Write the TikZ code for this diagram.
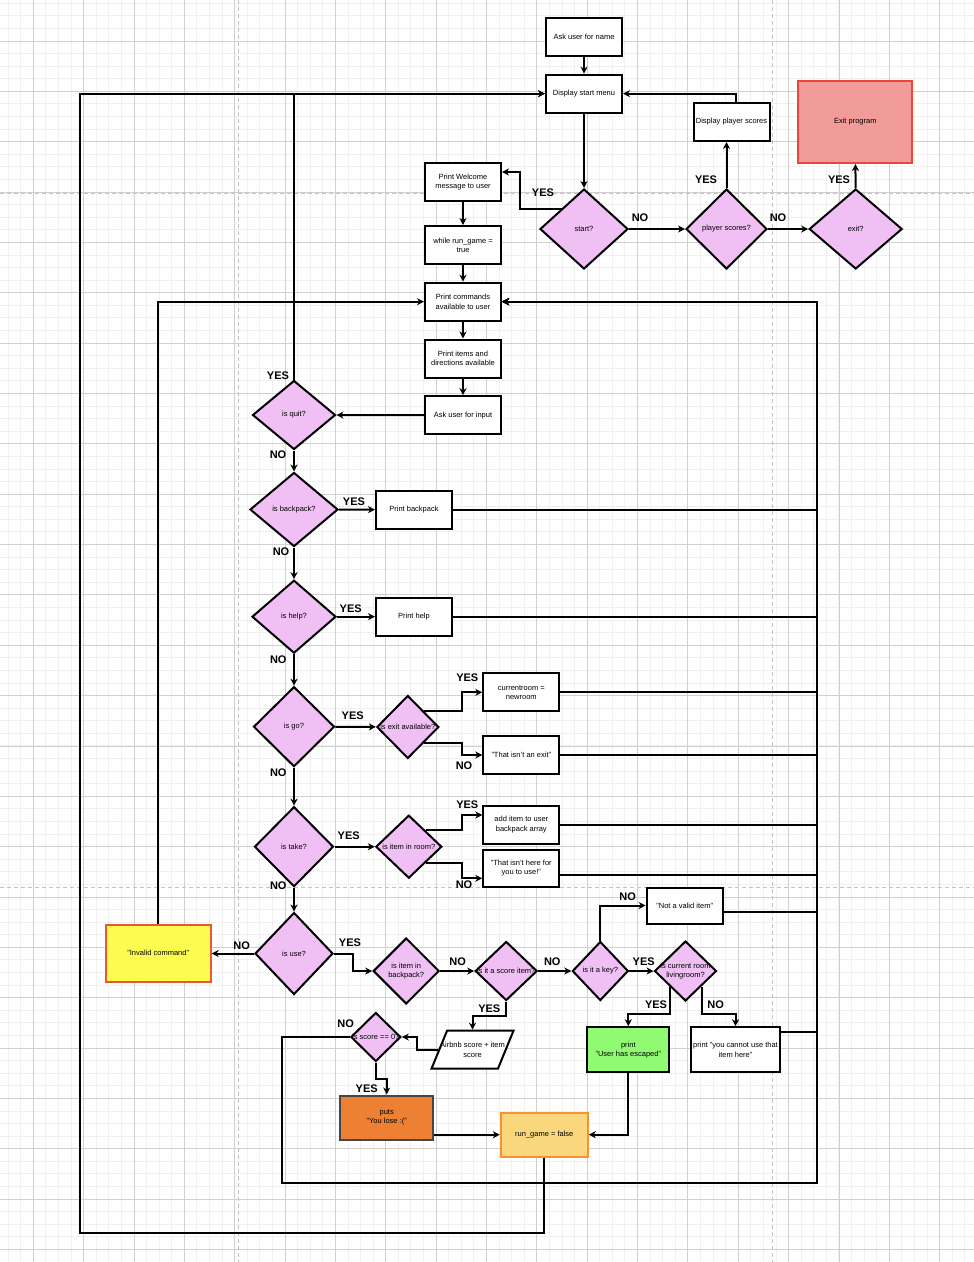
\documentclass[tikz,border=0pt]{standalone}
\usepackage{fontspec}
\setmainfont{Liberation Sans}
\usetikzlibrary{shapes.geometric,arrows.meta}

\definecolor{gridminor}{RGB}{240,240,240}
\definecolor{gridmajor}{RGB}{208,208,208}
\definecolor{pagecol}{RGB}{195,195,195}
\definecolor{decfill}{RGB}{240,192,245}
\definecolor{exitfill}{RGB}{241,156,153}
\definecolor{exitdraw}{RGB}{236,70,56}
\definecolor{invfill}{RGB}{252,252,80}
\definecolor{invdraw}{RGB}{240,85,50}
\definecolor{losefill}{RGB}{237,128,50}
\definecolor{losedraw}{RGB}{70,70,70}
\definecolor{endfill}{RGB}{250,215,125}
\definecolor{enddraw}{RGB}{245,145,55}
\definecolor{winfill}{RGB}{145,250,115}

\tikzset{
  proc/.style={draw,line width=2pt,fill=white,align=center,inner sep=1pt,
    minimum width=76pt,minimum height=38pt},
  decision/.style={diamond,draw,line width=2pt,fill=decfill,inner sep=0pt},
  dtext/.style={align=center,inner sep=0pt},
  yn/.style={font=\fontsize{11}{13}\bfseries\selectfont,inner sep=0pt},
  arr/.style={line width=2pt,-{Stealth[length=7pt,width=7pt,inset=2.2pt]}}
}

\begin{document}
\begin{tikzpicture}[x=1pt,y=-1pt,every node/.style={font=\fontsize{7.5}{9.3}\selectfont}]
\useasboundingbox (0,0) rectangle (974,1262);
\fill[white] (0,0) rectangle (974,1262);

% background grid
\begin{scope}
\clip (0,0) rectangle (974,1262);
\foreach \i in {-3,...,75} \draw[gridminor,line width=0.9pt] ({33.3+12.5875*\i},0) -- ++(0,1262);
\foreach \i in {-4,...,98} \draw[gridminor,line width=0.9pt] (0,{41+12.5875*\i}) -- ++(974,0);
\foreach \i in {0,...,18} \draw[gridmajor,line width=0.8pt] ({33.3+50.35*\i},0) -- ++(0,1262);
\foreach \i in {0,...,24} \draw[gridmajor,line width=0.8pt] (0,{41+50.35*\i}) -- ++(974,0);
\draw[pagecol,line width=1.2pt,dash pattern=on 4pt off 3pt]
  (238.3,0) -- (238.3,1262) (772.7,0) -- (772.7,1262)
  (0,193.3) -- (974,193.3) (0,887.3) -- (974,887.3);
\end{scope}

% start menu
\node[proc] (name) at (584,37) {Ask user for name};
\node[proc] (menu) at (584,93.7) {Display start menu};
\node[proc] (welcome) at (463,182) {Print Welcome\\message to user};
\node[proc] (whilegame) at (463,245) {while run\_game =\\true};
\node[proc] (showscores) at (731.5,122) {Display player scores};
\node[proc,minimum width=114pt,minimum height=82pt,fill=exitfill,draw=exitdraw] (exitprog) at (855.3,122) {Exit program};
\node[decision,minimum width=88pt,minimum height=80pt,label={[dtext]center:start?}] (start) at (584,229) {};
\node[decision,minimum width=81pt,minimum height=80pt,label={[dtext]center:player scores?}] (pscores) at (726.5,229) {};
\node[decision,minimum width=93pt,minimum height=80pt,label={[dtext]center:exit?}] (exitq) at (855.7,229) {};

% game loop
\node[proc] (cmds) at (463,301.7) {Print commands\\available to user};
\node[proc] (items) at (463,358.5) {Print items and\\directions available};
\node[proc] (input) at (463,415.2) {Ask user for input};
\node[decision,minimum width=83pt,minimum height=69pt,label={[dtext]center:is quit?}] (quit) at (294,415) {};
\node[decision,minimum width=88pt,minimum height=74pt,label={[dtext]center:is backpack?}] (isbackpack) at (294,509.5) {};
\node[proc] (backpack) at (414,509.7) {Print backpack};
\node[decision,minimum width=84pt,minimum height=73pt,label={[dtext]center:is help?}] (ishelp) at (294,616.7) {};
\node[proc] (help) at (414,616.7) {Print help};
\node[decision,minimum width=81pt,minimum height=80pt,label={[dtext]center:is go?}] (isgo) at (294,726.7) {};
\node[decision,minimum width=62pt,minimum height=63pt,label={[dtext]center:is exit available?}] (exitavail) at (407.8,727) {};
\node[proc] (newroom) at (521.3,692.3) {currentroom =\\newroom};
\node[proc] (noexit) at (521.3,755) {"That isn't an exit"};
\node[decision,minimum width=79pt,minimum height=80pt,label={[dtext]center:is take?}] (istake) at (294,846.7) {};
\node[decision,minimum width=66pt,minimum height=63pt,label={[dtext]center:is item in room?}] (inroom) at (408.8,846.7) {};
\node[proc] (additem) at (521.3,824.5) {add item to user\\backpack array};
\node[proc,minimum height=37pt] (nothere) at (521.3,868.3) {"That isn't here for\\you to use!"};
\node[decision,minimum width=78pt,minimum height=82pt,label={[dtext]center:is use?}] (isuse) at (294,953.5) {};
\node[proc,minimum width=105pt,minimum height=57pt,fill=invfill,draw=invdraw] (invalid) at (158.2,953) {"Invalid command"};
\node[decision,minimum width=66pt,minimum height=66pt,label={[dtext]center:{is item in\\backpack?}}] (inbackpack) at (406.2,971) {};
\node[decision,minimum width=62pt,minimum height=59pt,label={[dtext]center:is it a score item?}] (scoreitem) at (506.2,971) {};
\node[decision,minimum width=56pt,minimum height=59pt,label={[dtext]center:is it a key?}] (iskey) at (600.3,971) {};
\node[decision,minimum width=62pt,minimum height=60pt,label={[dtext]center:{is current room\\livingroom?}}] (livingroom) at (685.5,971) {};
\node[proc,minimum height=36pt] (notvalid) at (684.7,905.5) {"Not a valid item"};
\node[proc,minimum width=82pt,minimum height=45pt,fill=winfill] (escaped) at (628.3,1049.7) {print\\"User has escaped"};
\node[proc,minimum width=89pt,minimum height=45pt] (cannot) at (735.5,1049.7) {print "you cannot use that\\item here"};
\node[trapezium,trapezium stretches=true,trapezium left angle=73,trapezium right angle=107,
  draw,line width=2pt,fill=white,inner sep=2pt,minimum width=82pt,minimum height=38pt,
  label={[dtext]center:{Airbnb score + item\\score}}] (addscore) at (472.5,1049.7) {};
\node[decision,minimum width=50pt,minimum height=49pt,label={[dtext]center:is score == 0?}] (scorezero) at (375.8,1037) {};
\node[proc,minimum width=93pt,minimum height=44pt,fill=losefill,draw=losedraw] (lose) at (386.7,1117.5) {puts\\"You lose :("};
\node[proc,minimum width=87pt,minimum height=44pt,fill=endfill,draw=enddraw] (rungame) at (544.3,1134.7) {run\_game = false};
\coordinate (bus) at (817.3,301.7);

% connectors
\draw[arr] (name) -- (menu);
\draw[arr] (menu) -- (start);
\draw[arr] (start.north west) -| (520,172) -- (welcome.east |- 520,172);
\draw[arr] (start) -- (pscores);
\draw[arr] (pscores.north) -- (pscores.north |- showscores.south);
\draw[arr] ([xshift=4pt]showscores.north) |- (menu.east);
\draw[arr] (pscores) -- (exitq);
\draw[arr] (exitq) -- (exitprog);
\draw[arr] (welcome) -- (whilegame);
\draw[arr] (whilegame) -- (cmds);
\draw[arr] (cmds) -- (items);
\draw[arr] (items) -- (input);
\draw[arr] (input) -- (quit);
\draw[arr] (quit.north) |- (menu.west);
\draw[arr] (rungame.south) |- (80,1233) |- (menu.west);
\draw[arr] (quit) -- (isbackpack);
\draw[arr] (isbackpack) -- (backpack);
\draw[arr] (isbackpack) -- (ishelp);
\draw[arr] (ishelp) -- (help);
\draw[arr] (ishelp) -- (isgo);
\draw[arr] (isgo) -- (exitavail);
\draw[arr] (exitavail.north east) -| (461.7,692.3) -- (newroom.west);
\draw[arr] (exitavail.south east) -| (461.7,755) -- (noexit.west);
\draw[arr] (isgo) -- (istake);
\draw[arr] (istake) -- (inroom);
\draw[arr] (inroom.north east) -| (461.7,815) -- (additem.west |- 461.7,815);
\draw[arr] (inroom.south east) -| (461.7,878.3) -- (nothere.west |- 461.7,878.3);
\draw[arr] (istake) -- (isuse);
\draw[arr] (isuse.west) -- (isuse.west -| invalid.east);
\draw[arr] (invalid.north) |- (cmds.west);
\draw[arr] (isuse.east) -| (353.3,971) -- (inbackpack.west);
\draw[arr] (inbackpack) -- (scoreitem);
\draw[arr] (scoreitem) -- (iskey);
\draw[arr] (iskey.north) |- (notvalid.west);
\draw[arr] (iskey) -- (livingroom);
\draw[arr] (livingroom.south west) -- (livingroom.south west |- 0,1014.3) -| (escaped.north);
\draw[arr] (livingroom.south east) -- (livingroom.south east |- 0,1014.3) -| (cannot.north);
\draw[arr] (escaped.south) |- (rungame.east);
\draw[arr] (scoreitem.south) -- (scoreitem.south |- 0,1016) -| (addscore.north);
\draw[arr] (addscore.west) -| (416.7,1037) -- (scorezero.east);
\draw[arr] (scorezero.south) -- (scorezero.south |- 0,1079) -| (lose.north);
\draw[arr] (lose.east |- rungame.west) -- (rungame.west);

% back to the command prompt
\draw[arr] (backpack.east) -| (bus) -- (cmds.east);
\draw[arr] (help.east) -| (bus) -- (cmds.east);
\draw[arr] (newroom.east) -| (bus) -- (cmds.east);
\draw[arr] (noexit.east) -| (bus) -- (cmds.east);
\draw[arr] (additem.east) -| (bus) -- (cmds.east);
\draw[arr] (nothere.east |- 0,875.3) -| (bus) -- (cmds.east);
\draw[arr] (notvalid.east |- 0,912.3) -| (bus) -- (cmds.east);
\draw[arr] (cannot.east |- 0,1032.3) -| (bus) -- (cmds.east);
\draw[arr] (scorezero.west) -| (281.7,1183.3) -| (bus) -- (cmds.east);

% answers
\node[yn] (y1) at (543,193) {YES};
\node[yn] (n1) at (640,218) {NO};
\node[yn] (y2) at (706,180) {YES};
\node[yn] (n2) at (778,218) {NO};
\node[yn] (y3) at (839,180) {YES};
\node[yn] (y4) at (278,376) {YES};
\node[yn] (n4) at (278,455) {NO};
\node[yn] (y5) at (354,502) {YES};
\node[yn] (n5) at (281,552) {NO};
\node[yn] (y6) at (350.7,609) {YES};
\node[yn] (n6) at (278.3,659.3) {NO};
\node[yn] (y7) at (352.7,716) {YES};
\node[yn] (n7) at (278.3,772.7) {NO};
\node[yn] (y8) at (467.3,677.7) {YES};
\node[yn] (n8) at (464,766) {NO};
\node[yn] (y9) at (348.7,836) {YES};
\node[yn] (n9) at (278.3,886) {NO};
\node[yn] (y10) at (467.3,804.3) {YES};
\node[yn] (n10) at (464,885) {NO};
\node[yn] (y11) at (350,942.7) {YES};
\node[yn] (n11) at (241.7,945.7) {NO};
\node[yn] (n12) at (457.7,961.7) {NO};
\node[yn] (n13) at (552.3,961.7) {NO};
\node[yn] (n14) at (627.7,896.7) {NO};
\node[yn] (y14) at (643.7,961.7) {YES};
\node[yn] (y15) at (656,1005) {YES};
\node[yn] (n15) at (715.7,1005) {NO};
\node[yn] (y16) at (489.3,1008.3) {YES};
\node[yn] (n16) at (345.7,1024) {NO};
\node[yn] (y17) at (366.7,1088.3) {YES};
\end{tikzpicture}
\end{document}
